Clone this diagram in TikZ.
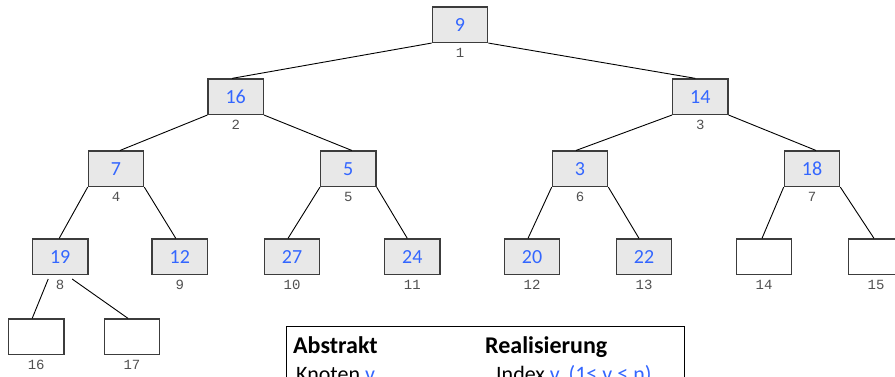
\documentclass[tikz,border=0pt]{standalone}
\usepackage{fontspec}
\setmainfont{Carlito}
\newfontfamily\idxfont{Liberation Mono}
\usetikzlibrary{calc}
\definecolor{keyblue}{RGB}{51,102,255}
\definecolor{boxfill}{RGB}{232,232,232}
\definecolor{boxline}{RGB}{60,60,60}
\definecolor{idxgray}{RGB}{80,80,80}

\begin{document}
\begin{tikzpicture}[x=1pt,y=-1pt,
  heapbox/.style={draw=boxline, line width=1.2pt, fill=boxfill,
    minimum width=55.5pt, minimum height=35.5pt, inner sep=0pt,
    font=\fontsize{20}{20}\selectfont, text=keyblue},
  emptybox/.style={heapbox, fill=white},
  idx/.style={font=\idxfont\fontsize{14}{14}\selectfont, text=idxgray,
    inner sep=0pt, anchor=base},
  treeedge/.style={draw=black, line width=0.9pt},
  legendhead/.style={font=\bfseries\fontsize{24}{24}\selectfont, anchor=base west, inner sep=0pt},
  legendline/.style={font=\fontsize{22}{22}\selectfont, anchor=base west, inner sep=0pt}]

\useasboundingbox (0,0) rectangle (895,376);

% heap nodes, level by level
\node[heapbox] (n1) at (460,24.7) {9};
\node[heapbox] (n2) at (235.7,96.7) {16};
\node[heapbox] (n3) at (700.3,96.7) {14};
\node[heapbox] (n4) at (116,168.8) {7};
\node[heapbox] (n5) at (348.3,168.8) {5};
\node[heapbox] (n6) at (580,168.8) {3};
\node[heapbox] (n7) at (812,168.8) {18};
\node[heapbox] (n8) at (60.2,256.7) {19};
\node[heapbox] (n9) at (179.8,256.7) {12};
\node[heapbox] (n10) at (292,256.7) {27};
\node[heapbox] (n11) at (412.3,256.7) {24};
\node[heapbox] (n12) at (532,256.7) {20};
\node[heapbox] (n13) at (644,256.7) {22};
\node[emptybox] (n14) at (764,256.7) {};
\node[emptybox] (n15) at (876,256.7) {};
\node[emptybox] (n16) at (36.2,336.7) {};
\node[emptybox] (n17) at (132,336.7) {};

% array indices below the nodes
\foreach \k in {1,...,17}{
  \node[idx] (i\k) at ($(n\k.south)+(0,14.5)$) {\k};
}

% tree edges
\draw[treeedge] (n1.south west) -- ($(n2.north)+(-3.5,0)$);
\draw[treeedge] (n1.south east) -- ($(n3.north)+(-5,0)$);
\draw[treeedge] (n2.south west) -- ($(n4.north)+(4,0)$);
\draw[treeedge] (n2.south east) -- ($(n5.north)+(3.5,0)$);
\draw[treeedge] (n3.south west) -- ($(n6.north)+(-4,0)$);
\draw[treeedge] (n3.south east) -- ($(n7.north)+(4,0)$);
\draw[treeedge] (n4.south west) -- ($(n8.north)+(-1,0)$);
\draw[treeedge] (n4.south east) -- ($(n9.north)+(-4,0)$);
\draw[treeedge] (n5.south west) -- ($(n10.north)+(-4,0)$);
\draw[treeedge] (n5.south east) -- ($(n11.north)+(-5,0)$);
\draw[treeedge] (n6.south west) -- ($(n12.north)+(-4,0)$);
\draw[treeedge] (n6.south east) -- ($(n13.north)+(-5,0)$);
\draw[treeedge] (n7.south west) -- ($(n14.north)+(-2,0)$);
\draw[treeedge] (n7.south east) -- ($(n15.north)+(-2,0)$);
\draw[treeedge] ($(n8.south)+(-12,4)$) -- ($(n16.north)+(-4,0)$);
\draw[treeedge] ($(n8.south)+(12,4)$) -- ($(n17.north)+(-4,0)$);

% legend box
\node[draw=black, line width=0.9pt, fill=white, minimum width=398pt,
  minimum height=80pt, anchor=north west, inner sep=0pt] (legend) at (286,326) {};
\node[legendhead] (abs) at (293,353.5) {Abstrakt};
\node[legendhead] (real) at (485,353.5) {Realisierung};
\node[legendline] (knot) at (296,381) {Knoten \textcolor{keyblue}{v}};
\node[legendline] (index) at (496,381) {Index \textcolor{keyblue}{v, (1≤ v ≤ n)}};
\end{tikzpicture}
\end{document}
